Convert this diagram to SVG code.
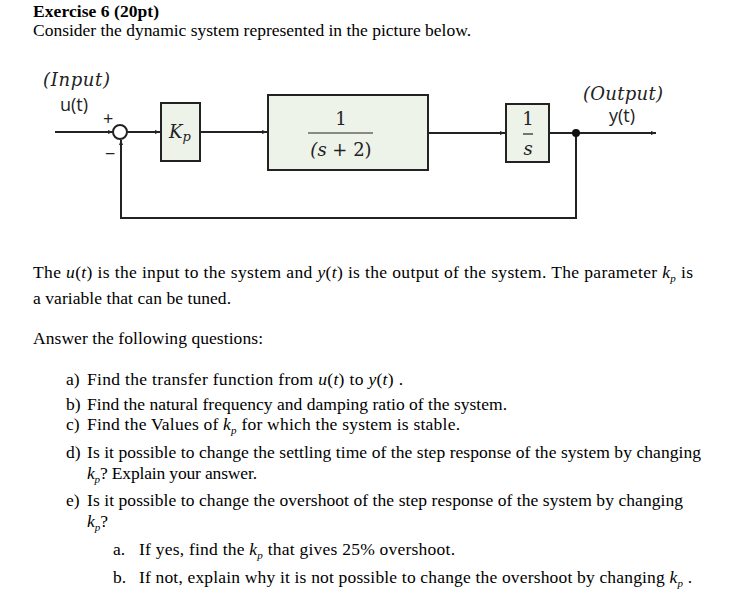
<svg xmlns="http://www.w3.org/2000/svg" width="748" height="612" viewBox="0 0 748 612">
<style>
.t{font-family:"Liberation Serif","Times New Roman",serif;font-size:17.5px;fill:#000}
.b{font-weight:bold}
.i{font-style:italic}
.m{font-family:"DejaVu Serif","Liberation Serif",serif;font-style:italic;fill:#222}
.mr{font-family:"DejaVu Serif","Liberation Serif",serif;fill:#222}
.s{font-family:"Open Sans","Liberation Sans",sans-serif;font-size:18px;fill:#222}
.blk{fill:#eef3ea;stroke:#222;stroke-width:2}
.ln{fill:none;stroke:#222;stroke-width:2}
</style>
<defs>
<marker id="ah" viewBox="0 0 10 10" refX="10" refY="5" markerWidth="5" markerHeight="5" orient="auto" markerUnits="userSpaceOnUse">
<path d="M0,1 L10,5 L0,9 z" fill="#222"/>
</marker>
</defs>
<rect width="748" height="612" fill="#fff"/>
<text class="t b" x="33" y="17" textLength="126">Exercise 6 (20pt)</text>
<text class="t" x="33" y="36" textLength="438">Consider the dynamic system represented in the picture below.</text>

<g id="connectors">
<line class="ln" x1="55" y1="132" x2="113" y2="132" marker-end="url(#ah)"/>
<line class="ln" x1="127" y1="132" x2="160" y2="132" marker-end="url(#ah)"/>
<line class="ln" x1="200" y1="132" x2="267" y2="132" marker-end="url(#ah)"/>
<line class="ln" x1="428" y1="133" x2="505" y2="133" marker-end="url(#ah)"/>
<line class="ln" x1="549" y1="133" x2="656" y2="133" marker-end="url(#ah)"/>
<polyline class="ln" points="576,133 576,218 121,218 121,140" marker-end="url(#ah)"/>
<circle cx="576" cy="133" r="4" fill="#111"/>
</g>

<g id="labels">
<text class="m" x="43" y="86" font-size="18" textLength="67">(Input)</text>
<text class="s" x="60" y="111">u(t)</text>
<text class="s" x="103" y="125" font-size="13">+</text>
<text class="s" x="105" y="160" font-size="13">−</text>
<text class="m" x="583" y="100" font-size="18" textLength="80">(Output)</text>
<text class="s" x="609" y="122">y(t)</text>
</g>

<g id="sum">
<circle cx="120" cy="132" r="7" fill="#fff" stroke="#222" stroke-width="2"/>
</g>

<g id="kp">
<rect class="blk" x="161" y="103" width="39" height="58"/>
<text class="m" x="169" y="138" font-size="18">K<tspan font-size="13" dy="3">p</tspan></text>
</g>

<g id="plant">
<rect class="blk" x="268" y="95" width="160" height="75"/>
<text class="mr" x="341" y="125" font-size="18" text-anchor="middle">1</text>
<line x1="308" y1="133" x2="373" y2="133" stroke="#222" stroke-width="1.2"/>
<text class="m" x="341" y="156" font-size="18" text-anchor="middle">(s <tspan font-style="normal">+ 2)</tspan></text>
</g>

<g id="integrator">
<rect class="blk" x="506" y="104" width="43" height="58"/>
<text class="mr" x="528" y="125" font-size="18" text-anchor="middle">1</text>
<line x1="523" y1="134" x2="533" y2="134" stroke="#222" stroke-width="1.2"/>
<text class="m" x="528" y="155" font-size="18" text-anchor="middle">s</text>
</g>

<text class="t" x="33" y="278" textLength="660">The <tspan class="i">u</tspan>(<tspan class="i">t</tspan>) is the input to the system and  <tspan class="i">y</tspan>(<tspan class="i">t</tspan>)  is the output of the system. The parameter <tspan class="i">k</tspan><tspan class="i" font-size="11" dy="4">p</tspan><tspan dy="-4">  is</tspan></text>
<text class="t" x="33" y="304" textLength="198">a variable that can be tuned.</text>
<text class="t" x="33" y="344" textLength="230">Answer the following questions:</text>

<text class="t" x="66" y="385">a)</text>
<text class="t" x="87" y="385" textLength="316">Find the transfer function from <tspan class="i">u</tspan>(<tspan class="i">t</tspan>)  to  <tspan class="i">y</tspan>(<tspan class="i">t</tspan>) .</text>
<text class="t" x="66" y="410">b)</text>
<text class="t" x="87" y="410" textLength="420">Find the natural frequency and damping ratio of the system.</text>
<text class="t" x="66" y="430">c)</text>
<text class="t" x="87" y="430" textLength="373">Find the Values of <tspan class="i">k</tspan><tspan class="i" font-size="11" dy="4">p</tspan><tspan dy="-4">  for which the system is stable.</tspan></text>
<text class="t" x="66" y="458">d)</text>
<text class="t" x="87" y="458" textLength="614">Is it possible to change the settling time of the step response of the system by changing</text>
<text class="t" x="87" y="479" textLength="170"><tspan class="i">k</tspan><tspan class="i" font-size="11" dy="4">p</tspan><tspan dy="-4">? Explain your answer.</tspan></text>
<text class="t" x="66" y="506">e)</text>
<text class="t" x="87" y="506" textLength="596">Is it possible to change the overshoot of the step response of the system by changing</text>
<text class="t" x="87" y="527"><tspan class="i">k</tspan><tspan class="i" font-size="11" dy="4">p</tspan><tspan dy="-4">?</tspan></text>
<text class="t" x="113" y="555">a.</text>
<text class="t" x="139" y="555" textLength="316">If yes, find the <tspan class="i">k</tspan><tspan class="i" font-size="11" dy="4">p</tspan><tspan dy="-4">  that gives 25% overshoot.</tspan></text>
<text class="t" x="113" y="583">b.</text>
<text class="t" x="139" y="583" textLength="553">If not, explain why it is not possible to change the overshoot by changing  <tspan class="i">k</tspan><tspan class="i" font-size="11" dy="4">p</tspan><tspan dy="-4"> .</tspan></text>
</svg>
